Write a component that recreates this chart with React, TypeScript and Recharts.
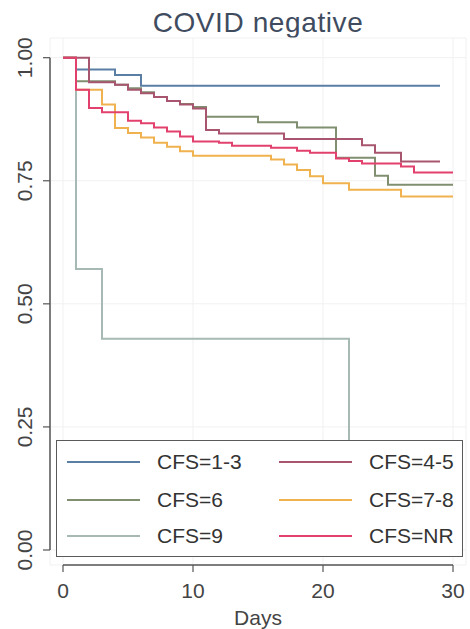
import React from 'react';
import { LineChart, Line, XAxis, YAxis, CartesianGrid, Legend, ReferenceLine } from 'recharts';

const FONT = '"Liberation Sans", Arial, Helvetica, sans-serif';

const title = 'COVID negative';
const xTicks = [0, 10, 20, 30];
const yTicks = [0, 0.25, 0.5, 0.75, 1];

const cfs13Days = [0, 1, 4, 6, 29];
const cfs13Surv = [1, 0.976, 0.965, 0.943, 0.943];

const cfs45Days = [0, 2, 4, 5, 6, 7, 8, 9, 10, 11, 12, 17, 23, 24, 26, 29];
const cfs45Surv = [1, 0.95, 0.945, 0.935, 0.928, 0.92, 0.912, 0.905, 0.897, 0.853, 0.846, 0.835, 0.822, 0.807, 0.789, 0.789];

const cfs6Days = [0, 1, 4, 5, 6, 7, 8, 9, 10, 11, 15, 18, 21, 24, 25, 30];
const cfs6Surv = [1, 0.952, 0.945, 0.938, 0.93, 0.92, 0.912, 0.906, 0.9, 0.88, 0.869, 0.858, 0.797, 0.76, 0.742, 0.742];

const cfs78Days = [0, 1, 3, 4, 5, 6, 7, 8, 9, 10, 16, 17, 18, 19, 20, 22, 26, 30];
const cfs78Surv = [1, 0.935, 0.905, 0.857, 0.847, 0.838, 0.827, 0.819, 0.81, 0.801, 0.793, 0.783, 0.772, 0.759, 0.745, 0.732, 0.718, 0.718];

const cfs9Days = [0, 1, 3, 22];
const cfs9Surv = [1, 0.571, 0.429, 0];

const cfsNRDays = [0, 1, 2, 3, 5, 6, 7, 8, 9, 10, 12, 13, 16, 18, 19, 21, 22, 23, 26, 27, 30];
const cfsNRSurv = [1, 0.935, 0.898, 0.889, 0.872, 0.867, 0.858, 0.85, 0.84, 0.83, 0.827, 0.821, 0.817, 0.811, 0.807, 0.795, 0.79, 0.785, 0.779, 0.767, 0.767];

const toRows = (days: number[], surv: number[]) => days.map((d, i) => ({ day: d, s: surv[i] }));

const series = [
  { name: 'CFS=1-3', color: '#5b7fa4', data: toRows(cfs13Days, cfs13Surv) },
  { name: 'CFS=4-5', color: '#a8566f', data: toRows(cfs45Days, cfs45Surv) },
  { name: 'CFS=6', color: '#7f8f6f', data: toRows(cfs6Days, cfs6Surv) },
  { name: 'CFS=7-8', color: '#efb24e', data: toRows(cfs78Days, cfs78Surv) },
  { name: 'CFS=9', color: '#a6b9b5', data: toRows(cfs9Days, cfs9Surv) },
  { name: 'CFS=NR', color: '#e2406d', data: toRows(cfsNRDays, cfsNRSurv) },
];

const drawOrder = ['CFS=9', 'CFS=1-3', 'CFS=7-8', 'CFS=6', 'CFS=4-5', 'CFS=NR'];

const X_MIN = -1;
const X_MAX = 31;
const Y_MIN = -0.0305;
const Y_MAX = 1.04;

const YTick = (props: any) => {
  const { x, y, payload } = props;
  const tx = x - 9;
  return (
    <text
      x={tx}
      y={y}
      transform={`rotate(-90, ${tx}, ${y})`}
      textAnchor="middle"
      fontFamily={FONT}
      fontSize={21}
      fill="#444"
    >
      {Number(payload.value).toFixed(2)}
    </text>
  );
};

const LegendBox = () => (
  <div
    style={{
      boxSizing: 'border-box',
      width: 407,
      height: 117,
      border: '1.5px solid #5a5a5a',
      background: '#fff',
      position: 'relative',
      fontFamily: FONT,
    }}
  >
    {series.map((s, i) => {
      const col = i % 2;
      const row = Math.floor(i / 2);
      const left = col === 0 ? 10 : 222;
      const top = [21, 59, 95][row];
      return (
        <div key={s.name}>
          <div
            style={{
              position: 'absolute',
              left,
              top: top - 1,
              width: 73,
              height: 2,
              background: s.color,
            }}
          />
          <div
            style={{
              position: 'absolute',
              left: left + 90,
              top: top - 13,
              fontSize: 21,
              lineHeight: '26px',
              color: '#333',
              whiteSpace: 'nowrap',
            }}
          >
            {s.name}
          </div>
        </div>
      );
    })}
  </div>
);

export default function App() {
  const ordered = drawOrder.map((n) => series.find((s) => s.name === n)!);
  return (
    <div style={{ position: 'absolute', left: 0, top: 0, width: 470, height: 629, background: '#fff' }}>
      <div
        style={{
          position: 'absolute',
          left: 50,
          width: 416,
          top: 6,
          textAlign: 'center',
          fontFamily: FONT,
          fontSize: 28,
          letterSpacing: 0.6,
          color: '#3f4c60',
          lineHeight: '34px',
        }}
      >
        {title}
      </div>
      <LineChart width={470} height={629} margin={{ top: 38, right: 4, bottom: 0, left: 0 }}>
        <CartesianGrid stroke="#f1f1f1" strokeWidth={1} />
        <XAxis
          type="number"
          dataKey="day"
          domain={[X_MIN, X_MAX]}
          ticks={xTicks}
          allowDataOverflow
          axisLine={false}
          tickLine={{ stroke: '#555', strokeWidth: 1.2 }}
          tickSize={7}
          tickMargin={11}
          height={64}
          tick={{ fontFamily: FONT, fontSize: 21, fill: '#444' }}
          label={{ value: 'Days', position: 'insideBottom', offset: 4, fontFamily: FONT, fontSize: 21, fill: '#444' }}
        />
        <YAxis
          type="number"
          domain={[Y_MIN, Y_MAX]}
          ticks={yTicks}
          allowDataOverflow
          axisLine={false}
          tickLine={{ stroke: '#555', strokeWidth: 1.2 }}
          tickSize={7}
          width={50}
          tick={<YTick />}
        />
        <ReferenceLine
          segment={[{ x: 0, y: Y_MIN }, { x: 30, y: Y_MIN }]}
          stroke="#555"
          strokeWidth={1.5}
          ifOverflow="visible"
        />
        <ReferenceLine
          segment={[{ x: X_MIN, y: 0 }, { x: X_MIN, y: 1 }]}
          stroke="#555"
          strokeWidth={1.5}
          ifOverflow="visible"
        />
        {ordered.map((s) => (
          <Line
            key={s.name}
            name={s.name}
            data={s.data}
            dataKey="s"
            type="stepAfter"
            stroke={s.color}
            strokeWidth={2}
            dot={false}
            activeDot={false}
            isAnimationActive={false}
          />
        ))}
        <Legend
          layout="horizontal"
          verticalAlign="middle"
          align="center"
          content={<LegendBox />}
          wrapperStyle={{ left: 56, top: 440, width: 407, height: 117 }}
        />
      </LineChart>
    </div>
  );
}
